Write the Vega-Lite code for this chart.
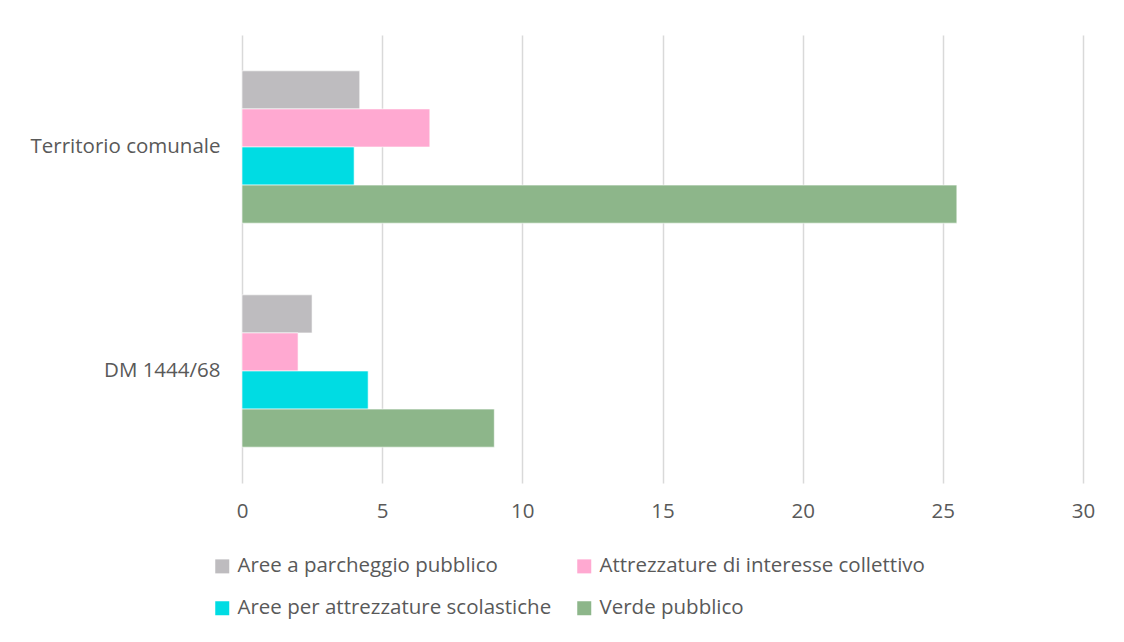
{
  "$schema": "https://vega.github.io/schema/vega-lite/v6.json",
  "width": 841,
  "height": 448,
  "autosize": {"type": "none"},
  "padding": {"left": 242, "top": 35, "right": 41, "bottom": 159},
  "background": "white",
  "config": {
    "view": {"stroke": null},
    "font": "Open Sans"
  },
  "data": {
    "values": [
      {"area": "Territorio comunale", "tipo": "Aree a parcheggio pubblico", "valore": 4.2},
      {"area": "Territorio comunale", "tipo": "Attrezzature di interesse collettivo", "valore": 6.7},
      {"area": "Territorio comunale", "tipo": "Aree per attrezzature scolastiche", "valore": 4.0},
      {"area": "Territorio comunale", "tipo": "Verde pubblico", "valore": 25.5},
      {"area": "DM 1444/68", "tipo": "Aree a parcheggio pubblico", "valore": 2.5},
      {"area": "DM 1444/68", "tipo": "Attrezzature di interesse collettivo", "valore": 2.0},
      {"area": "DM 1444/68", "tipo": "Aree per attrezzature scolastiche", "valore": 4.5},
      {"area": "DM 1444/68", "tipo": "Verde pubblico", "valore": 9.0}
    ]
  },
  "mark": {"type": "bar", "stroke": "white", "strokeWidth": 1, "strokeOpacity": 0.6},
  "encoding": {
    "y": {
      "field": "area",
      "type": "nominal",
      "sort": ["Territorio comunale", "DM 1444/68"],
      "scale": {"paddingInner": 0.32, "paddingOuter": 0.16},
      "axis": {
        "title": null,
        "domain": false,
        "ticks": false,
        "labelFontSize": 20.5,
        "labelColor": "#595959",
        "labelPadding": 22,
        "labelLimit": 400
      }
    },
    "yOffset": {
      "field": "tipo",
      "type": "nominal",
      "sort": ["Aree a parcheggio pubblico", "Attrezzature di interesse collettivo", "Aree per attrezzature scolastiche", "Verde pubblico"]
    },
    "x": {
      "field": "valore",
      "type": "quantitative",
      "scale": {"domain": [0, 30], "nice": false},
      "axis": {
        "title": null,
        "values": [0, 5, 10, 15, 20, 25, 30],
        "domain": false,
        "ticks": false,
        "grid": true,
        "gridColor": "#d9d9d9",
        "gridWidth": 1.5,
        "labelFlush": false,
        "labelFontSize": 20.5,
        "labelColor": "#595959",
        "labelPadding": 18
      }
    },
    "color": {
      "field": "tipo",
      "type": "nominal",
      "sort": ["Aree a parcheggio pubblico", "Attrezzature di interesse collettivo", "Aree per attrezzature scolastiche", "Verde pubblico"],
      "scale": {
        "domain": ["Aree a parcheggio pubblico", "Attrezzature di interesse collettivo", "Aree per attrezzature scolastiche", "Verde pubblico"],
        "range": ["#BEBCBF", "#FFA9D1", "#00DCE3", "#8DB68A"]
      },
      "legend": {
        "title": null,
        "orient": "none",
        "direction": "horizontal",
        "legendX": -30,
        "legendY": 521,
        "columns": 2,
        "symbolType": "square",
        "symbolSize": 196,
        "symbolStrokeWidth": 0,
        "labelFontSize": 20.5,
        "labelColor": "#595959",
        "labelOffset": 5,
        "columnPadding": 22,
        "rowPadding": 21,
        "labelLimit": 500
      }
    }
  }
}
